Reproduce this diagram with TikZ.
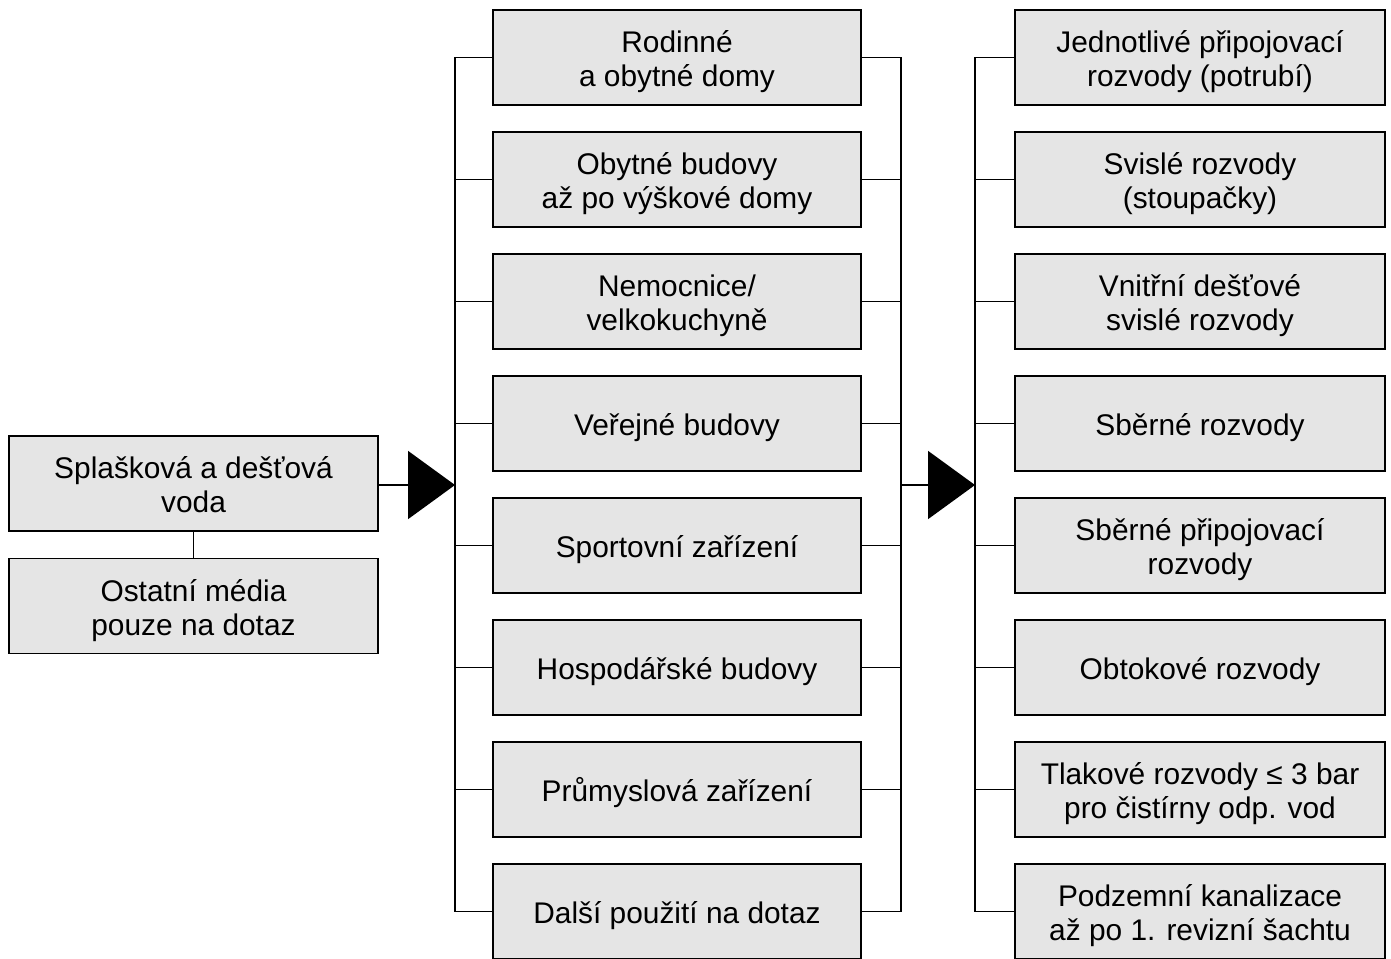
\documentclass[tikz,border=0pt]{standalone}
\usepackage{fontspec}
\setmainfont{Liberation Sans}
\usetikzlibrary{arrows.meta}
\newcommand{\hore}{\rule{0pt}{18pt}}
\newcommand{\dole}{\rule[-4pt]{0pt}{0pt}}
\tikzset{
  blok/.style={draw,line width=1pt,fill=gray!20,align=center,inner sep=2pt,
    font=\fontsize{17pt}{19.5pt}\selectfont,minimum height=1.9cm},
  spoj/.style={line width=1pt},
  sipka/.style={line width=1pt,-{Triangle[length=0.94cm,width=1.36cm]}}
}
\begin{document}
\begin{tikzpicture}[x=0.02cm,y=-0.02cm]
\useasboundingbox (0,0) rectangle (1391,958);
% vlevo
\node[blok,minimum width=7.38cm] at (193.5,483.5) (src) {\hore Splašková a dešťová\\voda\dole};
\node[blok,minimum width=7.38cm] at (193.5,606) (oth) {\hore Ostatní média\\pouze na dotaz\dole};
\draw[spoj] (src.south) -- (oth.north);
% budovy
\foreach \t [count=\i] in {{Rodinné\\a obytné domy},{Obytné budovy\\až po výškové domy},
  {Nemocnice/\\velkokuchyně},{Veřejné budovy},{Sportovní zařízení},
  {Hospodářské budovy},{Průmyslová zařízení},{Další použití na dotaz}}
  \node[blok,minimum width=7.36cm] at (677,{57.5+122*(\i-1)}) (m\i) {\hore\t\dole};
% rozvody
\foreach \t [count=\i] in {{Jednotlivé připojovací\\rozvody (potrubí)},{Svislé rozvody\\(stoupačky)},
  {Vnitřní dešťové\\svislé rozvody},{Sběrné rozvody},{Sběrné připojovací\\rozvody},
  {Obtokové rozvody},{Tlakové rozvody ≤ 3 bar\\pro čistírny odp. vod},
  {Podzemní kanalizace\\až po 1. revizní šachtu}}
  \node[blok,minimum width=7.4cm] at (1200,{57.5+122*(\i-1)}) (r\i) {\hore\t\dole};
\coordinate (lbus) at (455,485);
\coordinate (rbus) at (901,485);
\coordinate (rlbus) at (975,485);
\draw[sipka] (src.east |- lbus) -- (lbus);
\draw[spoj] (m1.west) -| (lbus) |- (m8.west);
\draw[spoj] (m1.east) -| (rbus) |- (m8.east);
\foreach \i in {2,...,7} {
  \draw[spoj] (m\i.west) -- (m\i.west -| lbus);
  \draw[spoj] (m\i.east) -- (m\i.east -| rbus);
}
\draw[sipka] (rbus) -- (rlbus);
\draw[spoj] (r1.west) -| (rlbus) |- (r8.west);
\foreach \i in {2,...,7}
  \draw[spoj] (r\i.west) -- (r\i.west -| rlbus);
\end{tikzpicture}
\end{document}
